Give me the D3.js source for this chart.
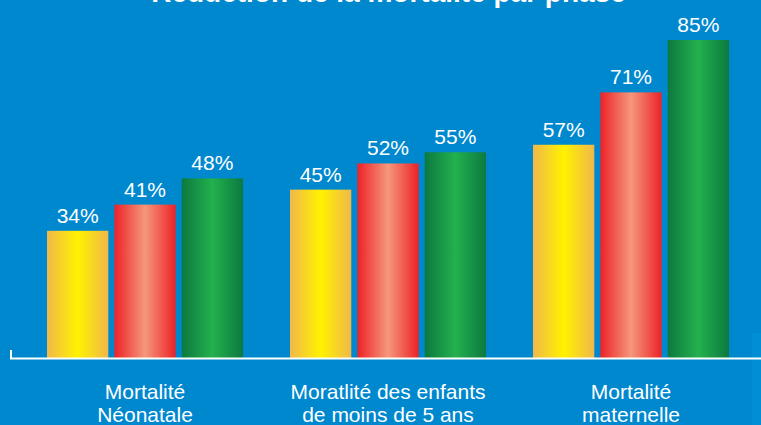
<!DOCTYPE html>
<html>
<head>
<meta charset="utf-8">
<script src="https://cdn.jsdelivr.net/npm/d3@7"></script>
<style>
  html, body { margin: 0; padding: 0; background: #0088cf; }
  svg { display: block; font-family: "Liberation Sans", Arial, sans-serif; }
</style>
</head>
<body>
<div id="chart"></div>
<script>
var categories = [
    ["Mortalité", "Néonatale"],
    ["Moratlité des enfants", "de moins de 5 ans"],
    ["Mortalité", "maternelle"]
];
var seriesNames = ["Phase 1", "Phase 2", "Phase 3"];
var phase1 = [34, 45, 57];
var phase2 = [41, 52, 71];
var phase3 = [48, 55, 85];
var title = "Réduction de la mortalité par phase";

var width = 761, height = 425;
var seriesValues = [phase1, phase2, phase3];
var gradients = [
    ["#f0b84a", "#fff200", "#f0b84a"],
    ["#ec2227", "#f5977b", "#ec2227"],
    ["#0c7940", "#23b14d", "#0c7940"]
];

var svg = d3.select("#chart").append("svg")
    .attr("width", width)
    .attr("height", height);

svg.append("rect")
    .attr("width", width)
    .attr("height", height)
    .attr("fill", "#0088cf");

// slightly lighter strip on the right edge
svg.append("rect")
    .attr("x", 752).attr("y", 333)
    .attr("width", 9).attr("height", 92)
    .attr("fill", "#008fd3");

var defs = svg.append("defs");
gradients.forEach(function(g, i) {
    var lg = defs.append("linearGradient")
        .attr("id", "grad" + i)
        .attr("x1", "0%").attr("x2", "100%")
        .attr("y1", "0%").attr("y2", "0%");
    lg.selectAll("stop").data(g).enter().append("stop")
        .attr("offset", function(d, j) { return (j * 50) + "%"; })
        .attr("stop-color", function(d) { return d; });
});

var x0 = d3.scaleBand()
    .domain(d3.range(categories.length))
    .range([23.5, 752.5])
    .paddingInner(47 / 243)
    .paddingOuter(47 / 486);

var x1 = d3.scaleBand()
    .domain(d3.range(seriesNames.length))
    .range([0, x0.bandwidth()])
    .paddingInner(0.09);

var y = d3.scaleLinear()
    .domain([0, 85])
    .range([358, 40]);

var groups = svg.selectAll("g.group")
    .data(categories)
    .enter().append("g")
    .attr("class", "group")
    .attr("transform", function(d, i) { return "translate(" + x0(i) + ",0)"; });

groups.selectAll("rect")
    .data(function(d, i) { return seriesValues.map(function(s, k) { return {k: k, v: s[i]}; }); })
    .enter().append("rect")
    .attr("x", function(d) { return x1(d.k); })
    .attr("y", function(d) { return y(d.v); })
    .attr("width", x1.bandwidth())
    .attr("height", function(d) { return y(0) - y(d.v); })
    .attr("fill", function(d) { return "url(#grad" + d.k + ")"; });

groups.selectAll("text.value")
    .data(function(d, i) { return seriesValues.map(function(s, k) { return {k: k, v: s[i]}; }); })
    .enter().append("text")
    .attr("class", "value")
    .attr("x", function(d) { return x1(d.k) + x1.bandwidth() / 2; })
    .attr("y", function(d) { return y(d.v) - 8; })
    .attr("text-anchor", "middle")
    .attr("fill", "#ffffff")
    .style("font-size", "21px")
    .text(function(d) { return d.v + "%"; });

// category labels
groups.append("text")
    .attr("text-anchor", "middle")
    .attr("fill", "#ffffff")
    .style("font-size", "21px")
    .selectAll("tspan")
    .data(function(d) { return d; })
    .enter().append("tspan")
    .attr("x", x0.bandwidth() / 2)
    .attr("y", function(d, j) { return 399 + j * 23; })
    .text(function(d) { return d; });

// baseline with small left tick
svg.append("path")
    .attr("d", "M11," + (y(0) - 8) + "V" + (y(0) + 0.5) + "H" + width)
    .attr("fill", "none")
    .attr("stroke", "#ffffff")
    .attr("stroke-width", 2);

svg.append("text")
    .attr("x", 388.5)
    .attr("y", 2)
    .attr("text-anchor", "middle")
    .attr("fill", "#ffffff")
    .style("font-size", "28px")
    .style("font-weight", "bold")
    .text(title);
</script>
</body>
</html>
